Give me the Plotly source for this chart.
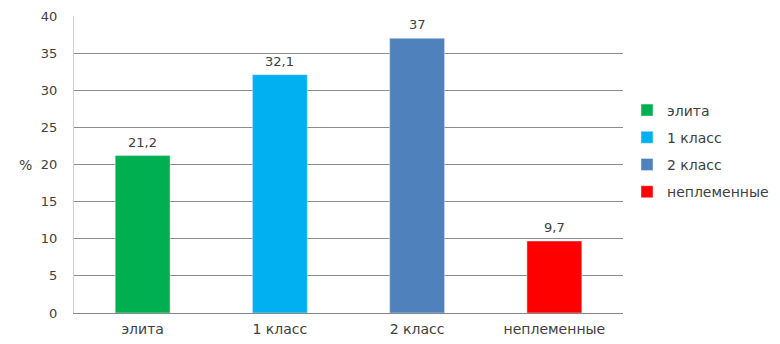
import plotly.graph_objects as go

categories = ["элита", "1 класс", "2 класс", "неплеменные"]
values = [21.2, 32.1, 37, 9.7]
labels = ["21,2", "32,1", "37", "9,7"]
colors = ["#00B050", "#00B0F0", "#4F81BD", "#FF0000"]
y_ticks = [0, 5, 10, 15, 20, 25, 30, 35, 40]

FONT = "DejaVu Sans, Liberation Sans, sans-serif"
TXT = "#404040"

# page body has an 8px margin; the figure starts at (8, 8) on the page
OFF = 8
W, H = 780 - OFF, 344 - OFF
L, T = 74 - OFF, 16 - OFF
R = 780 - 623
B = 344 - 313

fig = go.Figure()
for i, (c, v, col) in enumerate(zip(categories, values, colors)):
    fig.add_trace(go.Bar(
        x=[c], y=[v], name=c, marker_color=col, width=0.4,
        legendgroup=f"g{i}",
    ))

annotations = [dict(
    x=c, y=v, text=lab, xref="x", yref="y", showarrow=False,
    yanchor="bottom", yshift=4,
    font=dict(family=FONT, size=13, color=TXT),
) for c, v, lab in zip(categories, values, labels)]

annotations.append(dict(
    text="%", x=(25 - 74) / 549, y=20, xref="paper", yref="y", showarrow=False,
    xanchor="center", yanchor="middle",
    font=dict(family=FONT, size=14, color=TXT),
))

fig.update_layout(
    width=W, height=H,
    margin=dict(l=L, r=R, t=T, b=B, autoexpand=False),
    paper_bgcolor="white", plot_bgcolor="white",
    barmode="overlay",
    font=dict(family=FONT, size=13, color=TXT),
    xaxis=dict(
        categoryorder="array", categoryarray=categories,
        showline=True, linecolor="#868686", linewidth=1,
        ticks="outside", ticklen=3, tickcolor="rgba(0,0,0,0)",
        tickfont=dict(family=FONT, size=14, color=TXT),
        showgrid=False, automargin=False,
    ),
    yaxis=dict(
        range=[0, 40], tickvals=y_ticks, ticktext=[str(t) for t in y_ticks],
        showgrid=True, gridcolor="#8C8C8C", gridwidth=1,
        showline=True, linecolor="#D0D0D0", linewidth=1,
        zeroline=False, ticks="outside", ticklen=13, tickcolor="rgba(0,0,0,0)",
        tickfont=dict(family=FONT, size=13, color=TXT),
        automargin=False,
    ),
    legend=dict(
        x=(627 - 74) / 549, y=0.7357, xanchor="left", yanchor="top",
        font=dict(family=FONT, size=14, color=TXT),
        traceorder="grouped", tracegroupgap=6,
        bgcolor="rgba(0,0,0,0)",
    ),
    showlegend=True,
    annotations=annotations,
)

fig.write_html("out.html")
